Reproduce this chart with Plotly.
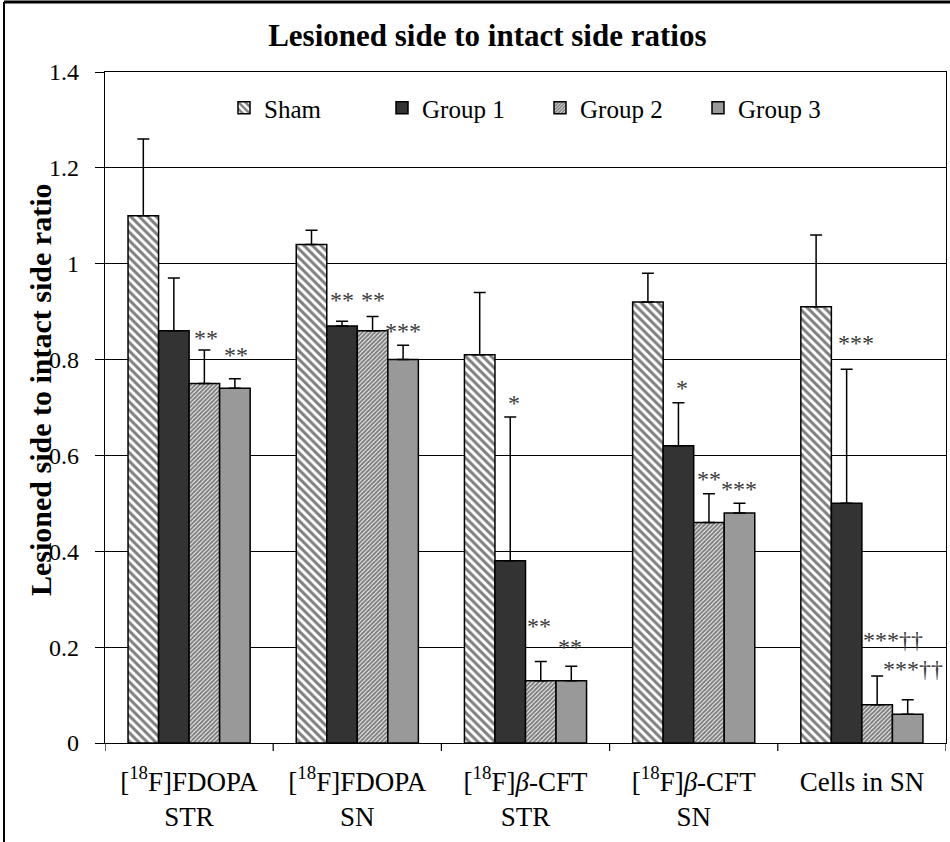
import plotly.graph_objects as go

categories = ["[<sup>18</sup>F]FDOPA<br>STR", "[<sup>18</sup>F]FDOPA<br>SN",
              "[<sup>18</sup>F]<i>β</i>-CFT<br>STR", "[<sup>18</sup>F]<i>β</i>-CFT<br>SN",
              "Cells in SN"]
series_names = ["Sham", "Group 1", "Group 2", "Group 3"]

sham = [1.10, 1.04, 0.81, 0.92, 0.91]
group1 = [0.86, 0.87, 0.38, 0.62, 0.50]
group2 = [0.75, 0.86, 0.13, 0.46, 0.08]
group3 = [0.74, 0.80, 0.13, 0.48, 0.06]

sham_err = [0.16, 0.03, 0.13, 0.06, 0.15]
group1_err = [0.11, 0.01, 0.30, 0.09, 0.28]
group2_err = [0.07, 0.03, 0.04, 0.06, 0.06]
group3_err = [0.02, 0.03, 0.03, 0.02, 0.03]

# significance labels: (category index, group index, text, y position)
sig_labels = [
    (0, 2, "**", 0.845), (0, 3, "**", 0.81),
    (1, 1, "**", 0.925), (1, 2, "**", 0.925), (1, 3, "***", 0.86),
    (2, 1, "*", 0.71), (2, 2, "**", 0.245), (2, 3, "**", 0.20),
    (3, 1, "*", 0.74), (3, 2, "**", 0.55), (3, 3, "***", 0.53),
    (4, 1, "***", 0.835), (4, 2, "***††", 0.215), (4, 3, "***††", 0.155),
]
sig_xshift = [2, 1, 0, 0, 0, 4, -2, -1, 4, 0, 0, 9, 16, 5]

values = [sham, group1, group2, group3]
errors = [sham_err, group1_err, group2_err, group3_err]

FONT = "Liberation Serif, Times New Roman, serif"

styles = [
    dict(color="white", pattern=dict(shape="\\", fgcolor="black", bgcolor="white", size=6, solidity=0.5)),
    dict(color="#333333"),
    dict(color="white", pattern=dict(shape="/", fgcolor="black", bgcolor="white", size=3, solidity=0.7)),
    dict(color="#999999"),
]

fig = go.Figure()
for name, vals, errs, st in zip(series_names, values, errors, styles):
    fig.add_trace(go.Bar(
        name=name, x=list(range(len(categories))), y=vals,
        marker=dict(line=dict(color="black", width=1.5), **st),
        error_y=dict(type="data", symmetric=False, array=errs,
                     arrayminus=[0] * len(errs), color="black",
                     thickness=1.5, width=6),
    ))

bargap = 0.274
bw = (1 - bargap) / 4
offs = [(-1.5 + k) * bw for k in range(4)]

annotations = []
for (ci, gi, txt, yv), xs in zip(sig_labels, sig_xshift):
    annotations.append(dict(x=ci + offs[gi], y=yv, xref="x", yref="y", text=txt, xshift=xs,
                            showarrow=False, font=dict(family=FONT, size=24, color="#3a3a3a"),
                            xanchor="center", yanchor="middle"))

annotations.append(dict(x=-65 / 841, y=(743 - 390) / 671, xref="paper", yref="paper",
                        text="<b>Lesioned side to intact side ratio</b>", textangle=-90,
                        showarrow=False, font=dict(family=FONT, size=30, color="black"),
                        xanchor="center", yanchor="middle"))

shapes = [
    dict(type="line", xref="paper", yref="paper", x0=-101 / 841, x1=-101 / 841,
         y0=1 + 70 / 671, y1=-99 / 671, line=dict(color="black", width=2)),
    dict(type="line", xref="paper", yref="paper", x0=-101 / 841, x1=1 + 4 / 841,
         y0=1 + 70 / 671, y1=1 + 70 / 671, line=dict(color="black", width=3)),
]

fig.update_layout(
    width=950, height=842,
    margin=dict(l=105, r=4, t=72, b=99),
    paper_bgcolor="white", plot_bgcolor="white",
    barmode="group", bargap=bargap, bargroupgap=0,
    font=dict(family=FONT, size=24, color="black"),
    title=dict(text="<b>Lesioned side to intact side ratios</b>", x=0.513, xanchor="center",
               y=1 - 35 / 842, yanchor="middle", font=dict(family=FONT, size=31, color="black")),
    legend=dict(orientation="h", x=(224 - 105) / 841, y=(743 - 108) / 671, xanchor="left", yanchor="middle",
                entrywidth=113, entrywidthmode="pixels", bgcolor="rgba(0,0,0,0)",
                font=dict(family=FONT, size=25), traceorder="normal"),
    annotations=annotations,
    shapes=shapes,
    showlegend=True,
)

fig.update_xaxes(
    tickmode="array", tickvals=list(range(len(categories))), ticktext=categories,
    range=[-0.5, len(categories) - 0.5],
    showline=True, linecolor="black", linewidth=1.2, mirror=True,
    ticks="", showgrid=False, ticklabelstandoff=14,
    tickfont=dict(family=FONT, size=27),
)
# boundary ticks
for b in range(len(categories) + 1):
    fig.add_shape(type="line", xref="x", yref="paper", x0=b - 0.5, x1=b - 0.5,
                  y0=0, y1=-8 / 671, line=dict(color="black", width=1.2))

fig.update_yaxes(
    range=[0, 1.4], dtick=0.2, tickformat="~g",
    showline=True, linecolor="black", linewidth=1.2, mirror=True,
    ticks="outside", ticklen=9, tickcolor="black", tickwidth=1.2,
    showgrid=True, gridcolor="black", gridwidth=1, zeroline=False,
    tickfont=dict(family=FONT, size=24), ticklabelstandoff=11,
)

fig.write_html("out.html")
